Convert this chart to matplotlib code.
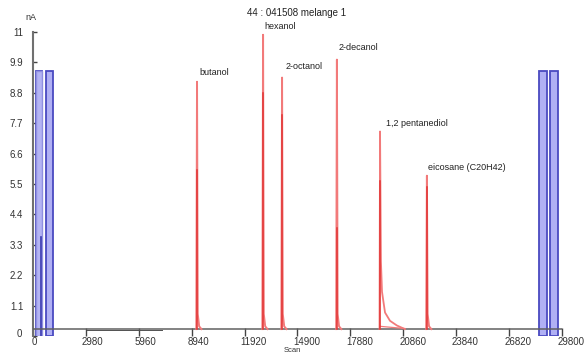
import matplotlib.pyplot as plt
from matplotlib.transforms import ScaledTranslation

plt.rcParams['font.family'] = ['Liberation Sans', 'DejaVu Sans']

# ---- data ----
x_ticks = [0, 2980, 5960, 8940, 11920, 14900, 17880, 20860, 23840, 26820, 29800]
y_ticks = [0, 1.1, 2.2, 3.3, 4.4, 5.5, 6.6, 7.7, 8.8, 9.9, 11]

baseline = 0.25

peak_names = ['butanol', 'hexanol', '2-octanol', '2-decanol', '1,2 pentanediol', 'eicosane (C20H42)']
peak_scan = [9240, 12960, 14030, 17120, 19550, 22190]
peak_top = [9.2, 10.9, 9.35, 10.0, 7.4, 5.8]
peak_inner = [6.0, 8.8, 8.0, 3.9, 5.6, 5.4]   # darker trace inside each peak
label_scan = [9400, 13060, 14220, 17200, 19900, 22250]
label_y = [9.55, 11.2, 9.75, 10.45, 7.7, 6.1]

# tailing of the 1,2 pentanediol peak
tail_scan = [19550, 19600, 19660, 19830, 20110, 20500, 20950]
tail_val = [7.4, 2.7, 1.6, 0.85, 0.55, 0.38, 0.25]

# blue marker blocks (start, end, height)
block_start = [170, 730, 28500, 29120]
block_end = [510, 1130, 28950, 29570]
block_top = [9.6, 9.6, 9.6, 9.6]

# slightly lower baseline stretch
dark_base_scan = [3040, 7270]

red_light = '#f27a7a'
red_dark = '#e23636'

fig = plt.figure(figsize=(5.84, 3.52), dpi=100)
ax = fig.add_axes([33 / 584, 16 / 352, 529 / 584, 304 / 352])

# blocks
for s, e, h in zip(block_start, block_end, block_top):
    ax.bar((s + e) / 2, h, width=e - s, bottom=0, color='#b0b0f4',
           edgecolor='#4a4ac0', linewidth=1.3, zorder=2)
ax.bar((block_start[0] + block_end[0]) / 2, block_top[0], width=block_end[0] - block_start[0],
       color='#b4b4f4', edgecolor='#9090e0', linewidth=1.0, zorder=2)
ax.plot([block_end[0] - 40] * 2, [0, 3.6], color='#3a3ab0', lw=1.2, zorder=3)

# baseline trace
ax.plot([0, 29800], [baseline, baseline], color='#606060', lw=1.1, zorder=4)
ax.plot(dark_base_scan, [baseline - 0.03] * 2, color='#505050', lw=0.7, zorder=4)

# peaks
for i, (xs, top, inner) in enumerate(zip(peak_scan, peak_top, peak_inner)):
    if i == 4:
        ax.plot([xs - 30] + tail_scan, [baseline] + tail_val, color=red_light, lw=1.3, zorder=5)
        ax.plot([xs, tail_scan[-1]], [baseline + 0.1, baseline + 0.02], color=red_light, lw=0.9, zorder=5)
    else:
        ax.plot([xs - 40, xs, xs + 40, xs + 120, xs + 250],
                [baseline, top, 0.8, 0.35, baseline], color=red_light, lw=1.4, zorder=5)
    ax.plot([xs, xs], [baseline, inner], color=red_dark, lw=1.1, zorder=6)
    ax.text(label_scan[i], label_y[i], peak_names[i], fontsize=6.5, ha='left',
            va='center', color='#222222')

fig.text(297 / 584, 1 - 13 / 352, '44 : 041508 melange 1',
         fontsize=7, ha='center', va='center', color='#222222')
fig.text(25 / 584, 1 - 17 / 352, 'nA', fontsize=6.5,
         ha='left', va='center', color='#333333')
fig.text(292 / 584, 1 - 346.5 / 352, 'Scan', fontsize=5.5, ha='center', va='top', color='#333333')

ax.set_xlim(0, 29800)
ax.set_ylim(0, 11)
ax.set_xticks(x_ticks)
ax.set_xticklabels([str(v) for v in x_ticks])
ax.set_yticks(y_ticks)
ax.set_yticklabels([('%g' % v) for v in y_ticks])

for sp in ['top', 'right', 'bottom']:
    ax.spines[sp].set_visible(False)
ax.spines['left'].set_color('#707070')
ax.spines['left'].set_linewidth(1.5)

ax.tick_params(axis='x', direction='in', length=6, width=1, color='#444444',
               labelsize=7, pad=0.5, labelcolor='#333333')
ax.tick_params(axis='y', direction='in', length=3, width=1, color='#444444',
               labelsize=7, pad=7, labelcolor='#333333')
shift = ScaledTranslation(-3 / 72, 0, fig.dpi_scale_trans)
for lab in ax.get_xticklabels():
    lab.set_horizontalalignment('left')
    lab.set_transform(lab.get_transform() + shift)
ax.get_xticklabels()[0].set_transform(ax.get_xticklabels()[0].get_transform()
                                      + ScaledTranslation(2 / 72, 0, fig.dpi_scale_trans))
ylab0 = ax.get_yticklabels()[0]
ylab0.set_transform(ylab0.get_transform() + ScaledTranslation(-1 / 72, 2 / 72, fig.dpi_scale_trans))

fig.savefig('out.png', dpi=100)
